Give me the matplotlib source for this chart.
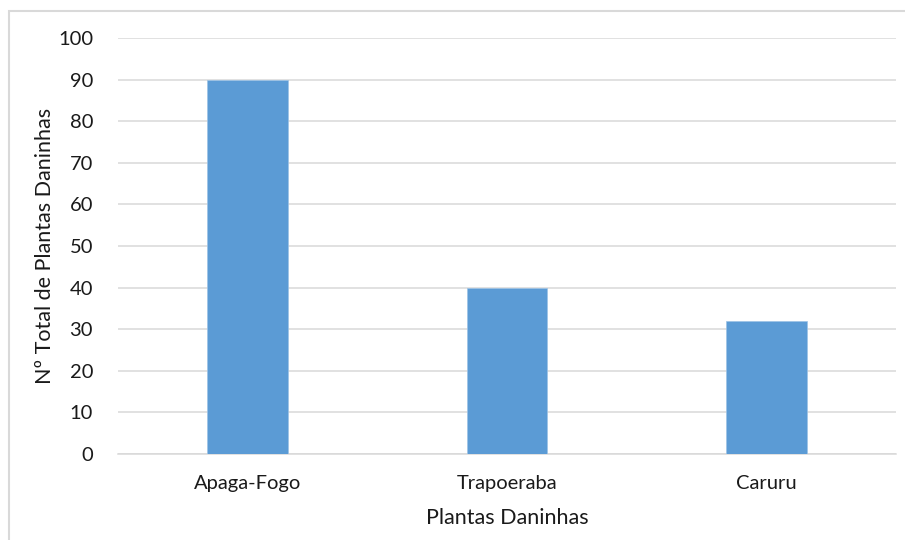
import matplotlib.pyplot as plt
from matplotlib.patches import Rectangle

# dados do levantamento
plantas = ['Apaga-Fogo', 'Trapoeraba', 'Caruru']
total = [90, 40, 32]
y_ticks = [0, 10, 20, 30, 40, 50, 60, 70, 80, 90, 100]

plt.rcParams['font.family'] = ['Lato', 'DejaVu Sans']

fig = plt.figure(figsize=(9.05, 5.4), dpi=100)
ax = fig.add_axes([118 / 905, 1 - 454 / 540, (896 - 118) / 905, (454 - 38) / 540])

# moldura do gráfico
fig.patches.append(Rectangle((9 / 905, -0.05), 1.0, 1 - 11 / 540 + 0.05,
                             transform=fig.transFigure, fill=False,
                             edgecolor='#d9d9d9', linewidth=1.5))

x = range(len(plantas))
ax.bar(x, total, width=0.31, color='#5b9bd5', edgecolor='#9dc3e6', linewidth=0.5, zorder=3)

ax.set_xlim(-0.5, len(plantas) - 0.5)
ax.set_ylim(0, 100)
ax.set_yticks(y_ticks)
ax.set_xticks(list(x))
ax.set_xticklabels(plantas)
ax.yaxis.grid(True, color='#d9d9d9', linewidth=1.1, zorder=0)
ax.tick_params(axis='both', length=0, labelsize=14.5, colors='#1a1a1a')
ax.tick_params(axis='x', pad=15)
ax.tick_params(axis='y', pad=18)

for side in ['top', 'right', 'left']:
    ax.spines[side].set_visible(False)
ax.spines['bottom'].set_color('#d9d9d9')
ax.spines['bottom'].set_linewidth(1.1)

ax.set_xlabel('Plantas Daninhas', fontsize=15.5, color='#1a1a1a', labelpad=12)
ax.set_ylabel('Nº Total de Plantas Daninhas', fontsize=15.5, color='#1a1a1a', labelpad=2)

fig.savefig('out.png', dpi=100)
